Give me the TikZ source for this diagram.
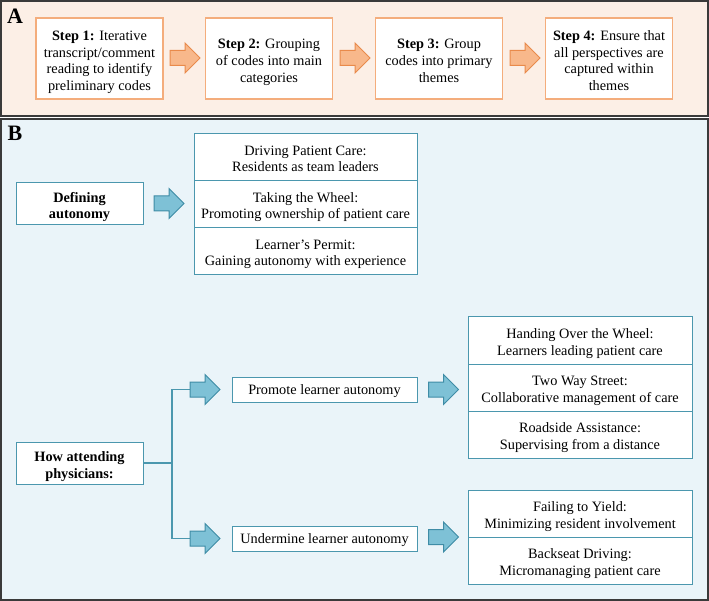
\documentclass[tikz,border=0pt]{standalone}
\usepackage{fontspec}
\setmainfont{Liberation Serif}
\definecolor{peach}{HTML}{FCEFE6}
\definecolor{skyb}{HTML}{EAF4F9}
\definecolor{frame}{HTML}{3A3A3A}
\definecolor{oline}{HTML}{F4AD7C}
\definecolor{ofill}{HTML}{F8B88B}
\definecolor{ostroke}{HTML}{E98A4B}
\definecolor{bline}{HTML}{4B97AE}
\definecolor{bfill}{HTML}{7EC1D6}
\definecolor{bstroke}{HTML}{3F8CA6}
\newcommand{\blockarrow}[3]{%
  \draw[#1] (#2,#3-7.5) -- ++(15,0) -- ++(0,-7.5) -- (#2+30,#3) -- (#2+15,#3+15) -- ++(0,-7.5) -- (#2,#3+7.5) -- cycle;}
\newcommand{\tstr}[1]{\rule{0pt}{#1}}
\newcommand{\bstr}{\rule[-3pt]{0pt}{3pt}}
\begin{document}
\begin{tikzpicture}[x=1pt,y=-1pt,
  txt/.style={font=\fontsize{14.3}{16.8}\selectfont, align=center, inner sep=0pt},
  obox/.style={txt, draw=oline, fill=white, line width=1.1pt, minimum width=127pt, minimum height=81pt},
  bbox/.style={txt, draw=bline, fill=white, line width=1pt},
  rowbox/.style={bbox, minimum width=223pt, minimum height=47pt},
  oarrow/.style={fill=ofill, draw=ostroke, line width=1pt, line join=miter},
  barrow/.style={fill=bfill, draw=bstroke, line width=1pt, line join=miter},
  conn/.style={draw=bline, line width=1.2pt},
  plabel/.style={font=\fontsize{22}{24}\selectfont\bfseries, inner sep=0pt}]
\useasboundingbox (0,0) rectangle (709,601);
% panels
\draw[fill=peach, draw=frame, line width=2pt] (1,1) rectangle (708,116);
\draw[fill=skyb, draw=frame, line width=2pt] (1,119) rectangle (708,600);
\node[plabel] (labA) at (15,16) {A};
\node[plabel] (labB) at (15,133.5) {B};
% panel A
\node[obox] (s1) at (99.5,58.5) {\tstr{17pt}\textbf{Step 1:} Iterative\\transcript/comment\\reading to identify\\preliminary codes\bstr};
\node[obox] (s2) at (269,58.5) {\tstr{17pt}\textbf{Step 2:} Grouping\\of codes into main\\categories\bstr};
\node[obox] (s3) at (439,58.5) {\tstr{17pt}\textbf{Step 3:} Group\\codes into primary\\themes\bstr};
\node[obox] (s4) at (609,58.5) {\tstr{17pt}\textbf{Step 4:} Ensure that\\all perspectives are\\captured within\\themes\bstr};
\blockarrow{oarrow}{170}{58}
\blockarrow{oarrow}{340}{58}
\blockarrow{oarrow}{510}{58}
% panel B, defining autonomy
\node[bbox, minimum width=127pt, minimum height=42pt, font=\fontsize{14.3}{16.8}\selectfont\bfseries] (def) at (79.5,204) {\tstr{16pt}Defining\\autonomy\bstr};
\blockarrow{barrow}{154}{203.5}
\node[rowbox] (d1) at (305.5,157) {\tstr{16pt}Driving Patient Care:\\Residents as team leaders\bstr};
\node[rowbox] (d2) at (305.5,204) {\tstr{16pt}Taking the Wheel:\\Promoting ownership of patient care\bstr};
\node[rowbox] (d3) at (305.5,251) {\tstr{16pt}Learner’s Permit:\\Gaining autonomy with experience\bstr};
% how attending physicians
\node[bbox, minimum width=127pt, minimum height=42pt, font=\fontsize{14.3}{16.8}\selectfont\bfseries] (how) at (79.5,463) {\tstr{17pt}How attending\\physicians:\bstr};
\coordinate (j) at (172,463);
\coordinate (pa) at (190,389.5);
\coordinate (ua) at (190,538.5);
\draw[conn] (how.east) -- (j);
\draw[conn] (j) |- (pa);
\draw[conn] (j) |- (ua);
\blockarrow{barrow}{190}{389.5}
\blockarrow{barrow}{190}{538.5}
\node[bbox, minimum width=185pt, minimum height=25pt] (prom) at (324.5,389.5) {\tstr{13pt}Promote learner autonomy\bstr};
\node[bbox, minimum width=185pt, minimum height=25pt] (und) at (324.5,538.5) {\tstr{13pt}Undermine learner autonomy\bstr};
\blockarrow{barrow}{428.5}{389.5}
\blockarrow{barrow}{428.5}{537}
\node[rowbox, minimum width=224pt] (p1) at (580,340.5) {\tstr{16pt}Handing Over the Wheel:\\Learners leading patient care\bstr};
\node[rowbox, minimum width=224pt] (p2) at (580,387.5) {\tstr{16pt}Two Way Street:\\Collaborative management of care\bstr};
\node[rowbox, minimum width=224pt] (p3) at (580,434.5) {\tstr{16pt}Roadside Assistance:\\Supervising from a distance\bstr};
\node[rowbox, minimum width=224pt] (u1) at (580,513.5) {\tstr{16pt}Failing to Yield:\\Minimizing resident involvement\bstr};
\node[rowbox, minimum width=224pt] (u2) at (580,560.5) {\tstr{16pt}Backseat Driving:\\Micromanaging patient care\bstr};
\end{tikzpicture}
\end{document}
